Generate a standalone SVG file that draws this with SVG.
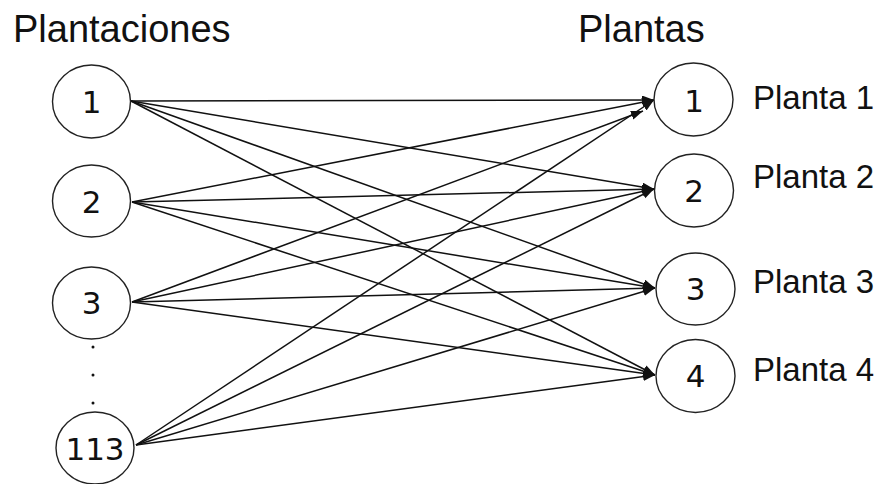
<svg xmlns="http://www.w3.org/2000/svg" width="883" height="484" viewBox="0 0 883 484">
  <style>
    .node ellipse { fill: #fff; stroke: #222; stroke-width: 1.4; }
    .num { font-family: "DejaVu Sans", sans-serif; font-size: 31px; fill: #111; text-anchor: middle; }
    .title { font-family: "Liberation Sans", Arial, sans-serif; font-size: 38px; fill: #111; }
    .label { font-family: "Liberation Sans", Arial, sans-serif; font-size: 33px; fill: #111; }
    .edges line { stroke: #111; stroke-width: 1.5; marker-end: url(#arrow); }
    .dot { fill: #111; }
  </style>
  <defs>
    <marker id="arrow" markerUnits="userSpaceOnUse" markerWidth="13" markerHeight="10" refX="12" refY="4.5" orient="auto">
      <path d="M0,0 L12,4.5 L0,9 z" fill="#111"/>
    </marker>
  </defs>

  <rect width="883" height="484" fill="#fff"/>

  <!-- column headings -->
  <text class="title" x="13" y="42">Plantaciones</text>
  <text class="title" x="578" y="42">Plantas</text>

  <!-- connectors: every plantation to every plant -->
  <g class="edges">
    <line x1="131" y1="101" x2="654" y2="100"/>
    <line x1="131" y1="101" x2="654" y2="189"/>
    <line x1="131" y1="101" x2="655" y2="288"/>
    <line x1="131" y1="101" x2="655" y2="375"/>

    <line x1="132" y1="202" x2="654" y2="100"/>
    <line x1="132" y1="202" x2="654" y2="189"/>
    <line x1="132" y1="202" x2="655" y2="288"/>
    <line x1="132" y1="202" x2="655" y2="375"/>

    <line x1="132" y1="302" x2="643" y2="111"/>
    <line x1="132" y1="302" x2="654" y2="189"/>
    <line x1="132" y1="302" x2="655" y2="288"/>
    <line x1="132" y1="302" x2="655" y2="375"/>

    <line x1="136" y1="445" x2="654" y2="100"/>
    <line x1="136" y1="445" x2="654" y2="189"/>
    <line x1="136" y1="445" x2="655" y2="288"/>
    <line x1="136" y1="445" x2="655" y2="375"/>
  </g>

  <!-- plantations -->
  <g id="plantacion-1" class="node">
    <ellipse cx="91.5" cy="101.5" rx="39" ry="36.5"/>
    <text class="num" x="91.5" y="113">1</text>
  </g>
  <g id="plantacion-2" class="node">
    <ellipse cx="91.5" cy="201" rx="39" ry="36"/>
    <text class="num" x="91.5" y="213">2</text>
  </g>
  <g id="plantacion-3" class="node">
    <ellipse cx="91.5" cy="303" rx="39" ry="36"/>
    <text class="num" x="91.5" y="314">3</text>
  </g>
  <g id="ellipsis">
    <circle class="dot" cx="93" cy="347" r="1.5"/>
    <circle class="dot" cx="93" cy="375" r="1.5"/>
    <circle class="dot" cx="93" cy="403" r="1.5"/>
  </g>
  <g id="plantacion-113" class="node">
    <ellipse cx="95" cy="448" rx="39" ry="36"/>
    <text class="num" x="95" y="460">113</text>
  </g>

  <!-- plants -->
  <g id="planta-1" class="node">
    <ellipse cx="693.5" cy="99.5" rx="39.5" ry="36.5"/>
    <text class="num" x="694" y="111.5">1</text>
    <text class="label" x="753" y="109">Planta 1</text>
  </g>
  <g id="planta-2" class="node">
    <ellipse cx="694" cy="190.5" rx="39.5" ry="36.5"/>
    <text class="num" x="694" y="201.5">2</text>
    <text class="label" x="753" y="188">Planta 2</text>
  </g>
  <g id="planta-3" class="node">
    <ellipse cx="695.5" cy="289" rx="39.5" ry="36"/>
    <text class="num" x="695.5" y="300">3</text>
    <text class="label" x="753" y="292.5">Planta 3</text>
  </g>
  <g id="planta-4" class="node">
    <ellipse cx="695.5" cy="376" rx="39.5" ry="36.5"/>
    <text class="num" x="695.5" y="387">4</text>
    <text class="label" x="753" y="380.5">Planta 4</text>
  </g>
</svg>
